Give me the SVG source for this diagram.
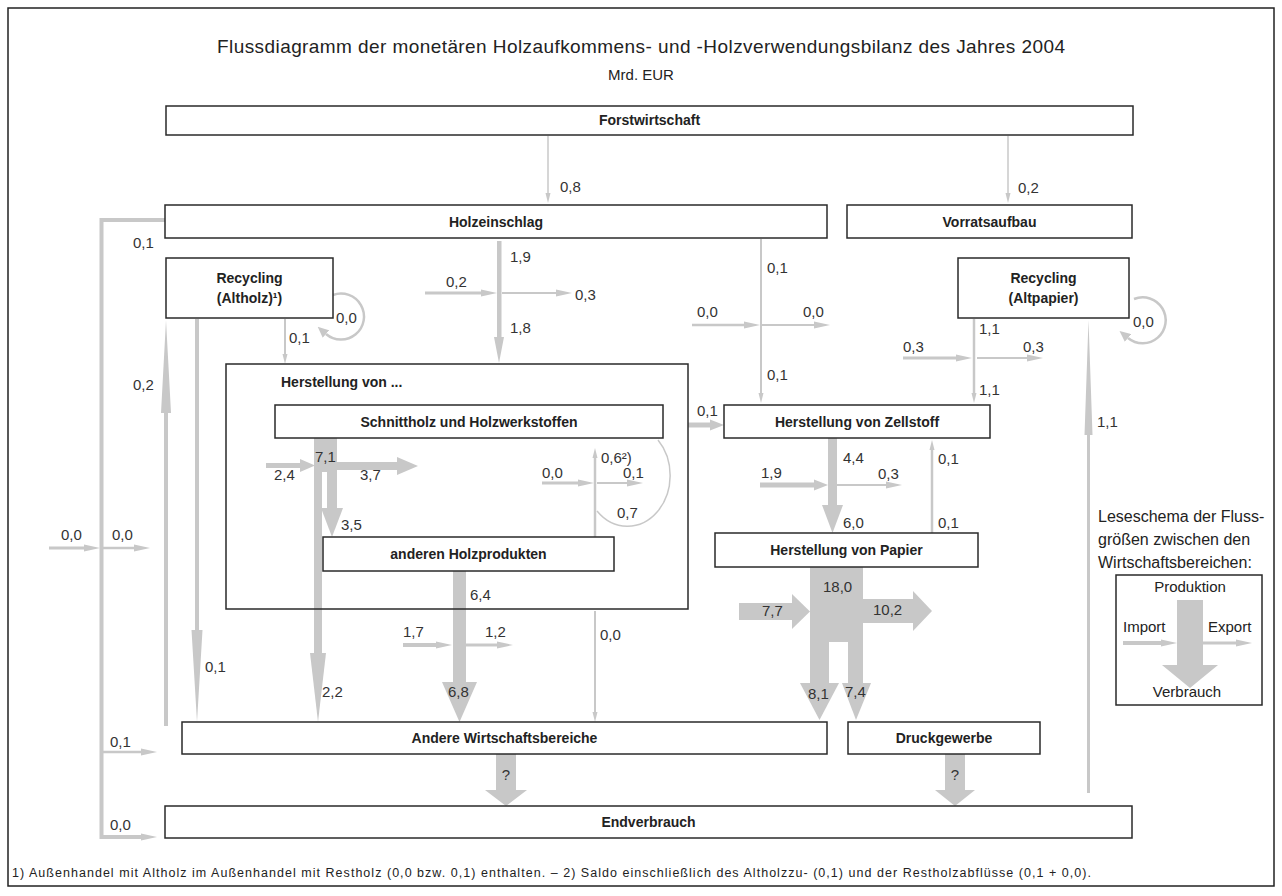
<svg xmlns="http://www.w3.org/2000/svg" width="1282" height="896" viewBox="0 0 1282 896">
<defs>
<style>
.box{fill:#fff;stroke:#2a2a2a;stroke-width:1.5}
.bl{font-family:"Liberation Sans",Arial,sans-serif;font-weight:bold;font-size:14px;fill:#222;text-anchor:middle}
.n{font-family:"Liberation Sans",Arial,sans-serif;font-size:15px;fill:#333}
.t{font-family:"Liberation Sans",Arial,sans-serif;fill:#222}
.ln{fill:none;stroke:#c8c8c8}
.fl{fill:#c8c8c8}
</style>
<marker id="ms" markerUnits="userSpaceOnUse" viewBox="0 -3 10 6" markerWidth="10" markerHeight="6" refX="0" refY="0" orient="auto"><path d="M0,-2.5L10,0L0,2.5z" fill="#c8c8c8"/></marker>
<marker id="mc" markerUnits="userSpaceOnUse" viewBox="0 -5 11 10" markerWidth="11" markerHeight="10" refX="0" refY="0" orient="auto"><path d="M0,-5L11,0L0,5z" fill="#c8c8c8"/></marker>
<marker id="mm" markerUnits="userSpaceOnUse" viewBox="0 -4 16 8" markerWidth="16" markerHeight="8" refX="0" refY="0" orient="auto"><path d="M0,-3.5L16,0L0,3.5z" fill="#c8c8c8"/></marker>
<marker id="ml" markerUnits="userSpaceOnUse" viewBox="0 -6 14 12" markerWidth="14" markerHeight="12" refX="0" refY="0" orient="auto"><path d="M0,-5.5L14,0L0,5.5z" fill="#c8c8c8"/></marker>
</defs>
<rect x="8" y="8" width="1266" height="878" fill="#fff" stroke="#222" stroke-width="1.5"/>
<text class="t" x="217" y="53" font-size="19" textLength="848">Flussdiagramm der monetären Holzaufkommens- und -Holzverwendungsbilanz des Jahres 2004</text>
<text class="t" x="641" y="80" font-size="15" text-anchor="middle">Mrd. EUR</text>

<g id="connectors">
<line class="ln" x1="548" y1="136" x2="548" y2="193" stroke-width="1.5" marker-end="url(#ms)"/>
<line class="ln" x1="1008" y1="136" x2="1008" y2="193" stroke-width="1.5" marker-end="url(#ms)"/>
<path class="ln" d="M165,220H101.5V837H141" stroke-width="4" marker-end="url(#mm)"/>
<line class="ln" x1="103" y1="752" x2="141" y2="752" stroke-width="2.5" marker-end="url(#mm)"/>
<line class="ln" x1="49" y1="548" x2="84" y2="548" stroke-width="3" marker-end="url(#mm)"/>
<line class="ln" x1="103" y1="548" x2="134" y2="548" stroke-width="2.5" marker-end="url(#mm)"/>
<polygon class="fl" points="164,726 164,413 161,413 166,320 171,413 168,413 168,726"/>
<polygon class="fl" points="195,319 199,319 199,630 202.5,630 197,722 191.5,630 195,630"/>
<line class="ln" x1="285" y1="319" x2="285" y2="354" stroke-width="2" marker-end="url(#ms)"/>
<path class="ln" d="M333,295A23,23 0 1 1 326,334" stroke-width="2.5" marker-end="url(#mc)"/>
<polygon class="fl" points="497,241 501.5,241 501.5,337 504,337 499,363 494,337 497,337"/>
<line class="ln" x1="425" y1="293" x2="481" y2="293" stroke-width="3" marker-end="url(#mm)"/>
<line class="ln" x1="502" y1="293" x2="556" y2="293" stroke-width="2" marker-end="url(#mm)"/>
<line class="ln" x1="761" y1="239" x2="761" y2="393" stroke-width="2" marker-end="url(#ms)"/>
<line class="ln" x1="692" y1="325" x2="744" y2="325" stroke-width="2.5" marker-end="url(#mm)"/>
<line class="ln" x1="762" y1="325" x2="814" y2="325" stroke-width="2" marker-end="url(#mm)"/>
<line class="ln" x1="688" y1="425" x2="710" y2="425" stroke-width="5" marker-end="url(#ml)"/>
<!-- Schnittholz flows -->
<rect class="fl" x="314" y="438" width="23" height="34"/>
<rect class="fl" x="266" y="463" width="34" height="5"/>
<polygon class="fl" points="300,459 315,465.5 300,472"/>
<rect class="fl" x="337" y="462" width="60" height="8"/>
<polygon class="fl" points="397,457 418,466 397,475"/>
<rect class="fl" x="327" y="472" width="10" height="36"/>
<polygon class="fl" points="321,508 343,508 332,537"/>
<rect class="fl" x="314" y="472" width="8" height="181"/>
<polygon class="fl" points="310,653 326,653 318,722"/>
<!-- anderen Holzprodukten flows -->
<rect class="fl" x="453" y="571" width="13" height="111"/>
<polygon class="fl" points="442,682 477,682 459.5,722"/>
<line class="ln" x1="403" y1="645" x2="436" y2="645" stroke-width="4" marker-end="url(#mm)"/>
<line class="ln" x1="466" y1="645" x2="497" y2="645" stroke-width="3" marker-end="url(#mm)"/>
<line class="ln" x1="595" y1="537" x2="595" y2="458" stroke-width="2.5" marker-end="url(#ms)"/>
<line class="ln" x1="542" y1="483" x2="578" y2="483" stroke-width="3" marker-end="url(#mm)"/>
<line class="ln" x1="597" y1="483" x2="627" y2="483" stroke-width="2" marker-end="url(#mm)"/>
<path class="ln" d="M658,440A42,50 0 0 1 597,511" stroke-width="1.5"/>
<line class="ln" x1="595" y1="611" x2="595" y2="712" stroke-width="2" marker-end="url(#ms)"/>
<!-- Zellstoff / Papier flows -->
<rect class="fl" x="828" y="438" width="9" height="67"/>
<polygon class="fl" points="822,505 843,505 832.5,533"/>
<line class="ln" x1="760" y1="485" x2="814" y2="485" stroke-width="5" marker-end="url(#ml)"/>
<line class="ln" x1="837" y1="485" x2="886" y2="485" stroke-width="2" marker-end="url(#mm)"/>
<line class="ln" x1="932" y1="533" x2="932" y2="450" stroke-width="2.5" marker-end="url(#ms)"/>
<rect class="fl" x="810" y="567" width="53" height="75"/>
<rect class="fl" x="739" y="603" width="53" height="17"/>
<polygon class="fl" points="792,594 810,611.5 792,629"/>
<rect class="fl" x="863" y="599" width="50" height="24"/>
<polygon class="fl" points="913,591 932,611 913,631"/>
<rect class="fl" x="810" y="642" width="19" height="41"/>
<polygon class="fl" points="800,683 839,683 819.5,720"/>
<rect class="fl" x="848" y="642" width="15" height="41"/>
<polygon class="fl" points="842,683 871,683 856,720"/>
<!-- Altpapier flows -->
<line class="ln" x1="974" y1="319" x2="974" y2="393" stroke-width="2.5" marker-end="url(#ms)"/>
<line class="ln" x1="903" y1="358" x2="956" y2="358" stroke-width="3" marker-end="url(#mm)"/>
<line class="ln" x1="977" y1="358" x2="1027" y2="358" stroke-width="2" marker-end="url(#mm)"/>
<path class="ln" d="M1134,299A23,23 0 1 1 1128,338" stroke-width="2.5" marker-end="url(#mc)"/>
<polygon class="fl" points="1087,793 1087,435 1084.5,435 1088.5,320 1092.5,435 1090,435 1090,793"/>
<!-- to Endverbrauch -->
<polygon class="fl" points="496,754 516,754 516,790 527,790 506,806 485,790 496,790"/>
<polygon class="fl" points="945,754 965,754 965,790 975,790 955,806 935,790 945,790"/>
</g>

<g id="labels">
<text class="n" x="560" y="192">0,8</text>
<text class="n" x="1018" y="193">0,2</text>
<text class="n" x="133" y="248">0,1</text>
<text class="n" x="289" y="343">0,1</text>
<text class="n" x="336" y="323">0,0</text>
<text class="n" x="510" y="262">1,9</text>
<text class="n" x="446" y="287">0,2</text>
<text class="n" x="575" y="300">0,3</text>
<text class="n" x="510" y="333">1,8</text>
<text class="n" x="767" y="273">0,1</text>
<text class="n" x="697" y="317">0,0</text>
<text class="n" x="803" y="317">0,0</text>
<text class="n" x="767" y="380">0,1</text>
<text class="n" x="979" y="334">1,1</text>
<text class="n" x="903" y="352">0,3</text>
<text class="n" x="1023" y="352">0,3</text>
<text class="n" x="979" y="395">1,1</text>
<text class="n" x="1133" y="327">0,0</text>
<text class="n" x="1097" y="427">1,1</text>
<text class="n" x="133" y="390">0,2</text>
<text class="n" x="697" y="416">0,1</text>
<text class="n" x="61" y="540">0,0</text>
<text class="n" x="112" y="540">0,0</text>
<text class="n" x="315" y="462">7,1</text>
<text class="n" x="274" y="480">2,4</text>
<text class="n" x="360" y="480">3,7</text>
<text class="n" x="341" y="530">3,5</text>
<text class="n" x="601" y="463">0,6²)</text>
<text class="n" x="542" y="478">0,0</text>
<text class="n" x="623" y="478">0,1</text>
<text class="n" x="617" y="518">0,7</text>
<text class="n" x="843" y="463">4,4</text>
<text class="n" x="761" y="478">1,9</text>
<text class="n" x="878" y="479">0,3</text>
<text class="n" x="938" y="464">0,1</text>
<text class="n" x="843" y="528">6,0</text>
<text class="n" x="938" y="528">0,1</text>
<text class="n" x="823" y="592">18,0</text>
<text class="n" x="762" y="616">7,7</text>
<text class="n" x="873" y="615">10,2</text>
<text class="n" x="470" y="600">6,4</text>
<text class="n" x="403" y="637">1,7</text>
<text class="n" x="485" y="637">1,2</text>
<text class="n" x="600" y="640">0,0</text>
<text class="n" x="205" y="672">0,1</text>
<text class="n" x="322" y="697">2,2</text>
<text class="n" x="448" y="697">6,8</text>
<text class="n" x="808" y="699">8,1</text>
<text class="n" x="845" y="697">7,4</text>
<text class="n" x="110" y="747">0,1</text>
<text class="n" x="110" y="830">0,0</text>
<text class="n" x="506" y="780" font-size="12" text-anchor="middle">?</text>
<text class="n" x="955" y="780" font-size="12" text-anchor="middle">?</text>
</g>

<g id="forstwirtschaft"><rect class="box" x="166" y="106" width="967" height="29"/><text class="bl" x="649.5" y="125">Forstwirtschaft</text></g>
<g id="holzeinschlag"><rect class="box" x="165" y="205" width="662" height="33"/><text class="bl" x="496" y="227">Holzeinschlag</text></g>
<g id="vorratsaufbau"><rect class="box" x="847" y="205" width="285" height="33"/><text class="bl" x="989.5" y="227">Vorratsaufbau</text></g>
<g id="recycling-altholz"><rect class="box" x="166" y="258" width="167" height="60"/><text class="bl" x="249.5" y="283">Recycling</text><text class="bl" x="249.5" y="303">(Altholz)¹)</text></g>
<g id="recycling-altpapier"><rect class="box" x="958" y="258" width="171" height="60"/><text class="bl" x="1043.5" y="283">Recycling</text><text class="bl" x="1043.5" y="303">(Altpapier)</text></g>
<g id="herstellung"><rect class="box" x="226" y="364" width="462" height="245" fill="none" style="fill:none"/><text class="bl" x="281" y="387" style="text-anchor:start">Herstellung von ...</text></g>
<g id="schnittholz"><rect class="box" x="275" y="405" width="388" height="33"/><text class="bl" x="469" y="427">Schnittholz und Holzwerkstoffen</text></g>
<g id="anderen-holzprodukten"><rect class="box" x="323" y="537" width="291" height="34"/><text class="bl" x="468.5" y="559">anderen Holzprodukten</text></g>
<g id="zellstoff"><rect class="box" x="724" y="405" width="266" height="33"/><text class="bl" x="857" y="427">Herstellung von Zellstoff</text></g>
<g id="papier"><rect class="box" x="715" y="533" width="263" height="34"/><text class="bl" x="846.5" y="555">Herstellung von Papier</text></g>
<g id="andere-wirtschaftsbereiche"><rect class="box" x="182" y="722" width="645" height="32"/><text class="bl" x="504.5" y="743">Andere Wirtschaftsbereiche</text></g>
<g id="druckgewerbe"><rect class="box" x="848" y="722" width="192" height="32"/><text class="bl" x="944" y="743">Druckgewerbe</text></g>
<g id="endverbrauch"><rect class="box" x="165" y="806" width="967" height="32"/><text class="bl" x="648.5" y="827">Endverbrauch</text></g>

<g id="legend">
<text class="t" x="1098" y="522" font-size="16">Leseschema der Fluss-</text>
<text class="t" x="1098" y="545" font-size="16">größen zwischen den</text>
<text class="t" x="1098" y="568" font-size="16">Wirtschaftsbereichen:</text>
<rect class="box" x="1116" y="575" width="146" height="130"/>
<text class="t" x="1190" y="592" font-size="15" text-anchor="middle">Produktion</text>
<polygon class="fl" points="1177,600 1203,600 1203,665 1218,665 1190,688 1162,665 1177,665"/>
<text class="t" x="1123" y="632" font-size="15">Import</text>
<text class="t" x="1208" y="632" font-size="15">Export</text>
<line class="ln" x1="1123" y1="643" x2="1161" y2="643" stroke-width="4" marker-end="url(#mm)"/>
<line class="ln" x1="1203" y1="643" x2="1236" y2="643" stroke-width="3" marker-end="url(#mm)"/>
<text class="t" x="1187" y="697" font-size="15" text-anchor="middle">Verbrauch</text>
</g>

<text class="t" x="12" y="877" font-size="12.5" textLength="1079">1) Außenhandel mit Altholz im Außenhandel mit Restholz (0,0 bzw. 0,1) enthalten. – 2) Saldo einschließlich des Altholzzu- (0,1) und der Restholzabflüsse (0,1 + 0,0).</text>
</svg>
